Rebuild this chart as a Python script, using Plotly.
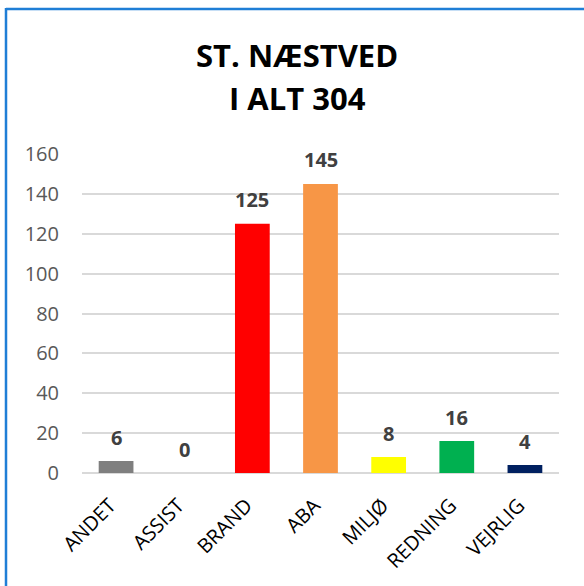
import plotly.graph_objects as go

categories = ["ANDET", "ASSIST", "BRAND", "ABA", "MILJØ", "REDNING", "VEJRLIG"]
values = [6, 0, 125, 145, 8, 16, 4]
colors = ["#7F7F7F", "#A5A5A5", "#FF0000", "#F79646", "#FFFF00", "#00B050", "#002060"]
title_lines = ["ST. NÆSTVED", "I ALT 304"]
y_ticks = [0, 20, 40, 60, 80, 100, 120, 140, 160]

W, H = 584, 586
ML, MR, MT, MB = 82, 25, 154, 113
pw, ph = W - ML - MR, H - MT - MB

fig = go.Figure()
fig.add_trace(go.Bar(
    x=categories, y=values, marker=dict(color=colors, line=dict(width=0)),
    width=0.51, hoverinfo="x+y",
))

for c, v in zip(categories, values):
    fig.add_annotation(x=c, y=v, text=f"<b>{v}</b>", showarrow=False,
                       yshift=24, font=dict(family="Open Sans", size=20, color="#404040"))

def px_x(p):
    return (p - ML) / pw

def px_y(p):
    return (H - MB - p) / ph

for line, ypx in zip(title_lines, [55, 98]):
    fig.add_annotation(xref="paper", yref="paper", x=px_x(297), y=px_y(ypx),
                       xanchor="center", yanchor="middle", showarrow=False,
                       text=f"<b>{line}</b>",
                       font=dict(family="Open Sans", size=31, color="black"))

fig.add_shape(type="line", xref="paper", yref="paper",
              x0=px_x(6), x1=px_x(6), y0=px_y(8), y1=px_y(600),
              line=dict(color="#1F7ED6", width=2.5))
fig.add_shape(type="line", xref="paper", yref="paper",
              x0=px_x(6), x1=px_x(600), y0=px_y(9), y1=px_y(9),
              line=dict(color="#1F7ED6", width=2.5))

fig.update_layout(
    width=W, height=H,
    margin=dict(l=ML, r=MR, t=MT, b=MB, pad=0),
    paper_bgcolor="white", plot_bgcolor="white",
    showlegend=False,
    bargap=0.49,
    xaxis=dict(tickangle=-45, tickfont=dict(family="Open Sans", size=20, color="black"),
               showgrid=False, showline=False, ticks="outside", ticklen=12,
               tickcolor="rgba(0,0,0,0)", ticklabelshift=-6),
    yaxis=dict(range=[0, 160], tickvals=y_ticks, showgrid=True, gridcolor="#D9D9D9",
               gridwidth=2, zeroline=True, zerolinecolor="#D9D9D9", zerolinewidth=2,
               tickfont=dict(family="Open Sans", size=20, color="#595959"),
               ticks="outside", ticklen=18, tickcolor="rgba(0,0,0,0)", showline=False),
)

fig.write_html("out.html", config={"displayModeBar": False},
               post_script="document.body.style.margin='0';document.body.style.overflow='hidden';")
